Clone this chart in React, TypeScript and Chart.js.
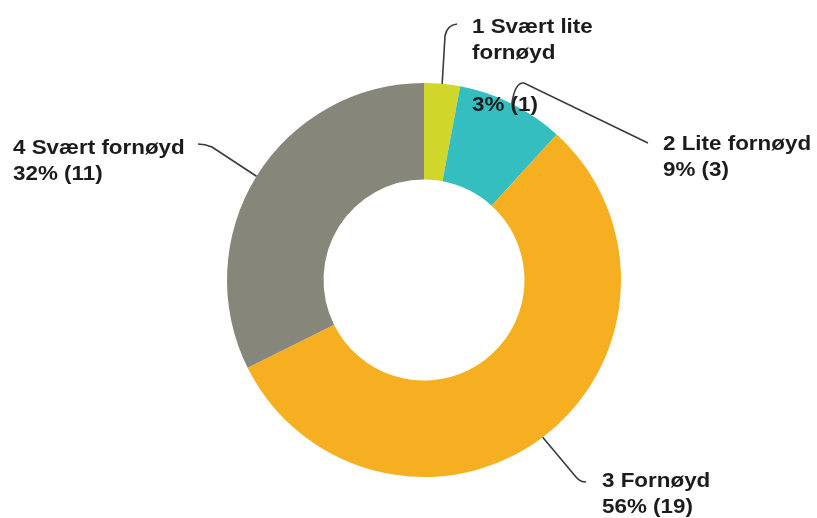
import React, { useEffect, useRef } from "react";
import { Chart, registerables } from "chart.js";

Chart.register(...registerables);

const categories = ["1 Svært lite fornøyd", "2 Lite fornøyd", "3 Fornøyd", "4 Svært fornøyd"];
const nameLines = [["1 Svært lite", "fornøyd"], ["2 Lite fornøyd"], ["3 Fornøyd"], ["4 Svært fornøyd"]];
const counts = [1, 3, 19, 11];
const colors = ["#D1D62B", "#35BEC0", "#F6AF20", "#86877A"];

// label layout, relative to doughnut centre (px)
const labelLayout = [
  { tx: 48, ty: -247, pctLine: 3, path: [[21, -244], [23, -255], [33, -256]], curveFirst: false },
  { tx: 239, ty: -130, pctLine: 1, path: [[91, -198], [100, -197], [224, -137]], curveFirst: true },
  { tx: 178, ty: 207, pctLine: 1, path: [[152, 197], [156, 202], [162, 202]], curveFirst: false },
  { tx: -411, ty: -126, pctLine: 1, path: [[-212, -133], [-219, -136], [-226, -136]], curveFirst: false },
];

const labelPlugin = {
  id: "leaderLabels",
  afterDatasetsDraw(chart: any) {
    const ctx = chart.ctx;
    const meta = chart.getDatasetMeta(0);
    const total = counts.reduce((a, b) => a + b, 0);
    ctx.save();
    meta.data.forEach((arc: any, i: number) => {
      const { x: cx, y: cy, startAngle, endAngle, outerRadius } = arc.getProps(
        ["x", "y", "startAngle", "endAngle", "outerRadius"],
        true
      );
      const mid = (startAngle + endAngle) / 2;
      const ax = cx + Math.cos(mid) * outerRadius;
      const ay = cy + Math.sin(mid) * outerRadius;
      const L = labelLayout[i];
      const p = L.path.map(([dx, dy]) => [cx + dx, cy + dy]);
      ctx.strokeStyle = "#3a3a3a";
      ctx.lineWidth = 1.6;
      ctx.beginPath();
      ctx.moveTo(ax, ay);
      if (L.curveFirst) {
        ctx.quadraticCurveTo(p[0][0], p[0][1], p[1][0], p[1][1]);
        ctx.lineTo(p[2][0], p[2][1]);
      } else {
        ctx.lineTo(p[0][0], p[0][1]);
        ctx.quadraticCurveTo(p[1][0], p[1][1], p[2][0], p[2][1]);
      }
      ctx.stroke();

      ctx.fillStyle = "#1c1c1c";
      ctx.font = "bold 20px 'Liberation Sans', Arial, sans-serif";
      ctx.textAlign = "left";
      ctx.textBaseline = "alphabetic";
      const lh = 26;
      const tx = cx + L.tx;
      const ty = cy + L.ty;
      const draw = (t: string, y: number) => {
        ctx.save();
        ctx.translate(tx, y);
        ctx.scale(1.12, 1);
        ctx.fillText(t, 0, 0);
        ctx.restore();
      };
      nameLines[i].forEach((t, k) => draw(t, ty + k * lh));
      const pct = Math.round((counts[i] / total) * 100);
      draw(`${pct}% (${counts[i]})`, ty + L.pctLine * lh);
    });
    ctx.restore();
  },
};

export default function App() {
  const ref = useRef<HTMLCanvasElement>(null);
  useEffect(() => {
    document.body.style.margin = "0";
    const chart = new Chart(ref.current!, {
      type: "doughnut",
      data: {
        labels: categories,
        datasets: [
          {
            data: counts,
            backgroundColor: colors,
            borderWidth: 0,
          },
        ],
      },
      options: {
        responsive: false,
        animation: false,
        devicePixelRatio: 1,
        cutout: "51%",
        layout: { padding: { left: 227, right: 196, top: 83, bottom: 41 } },
        plugins: { legend: { display: false }, tooltip: { enabled: false } },
      },
      plugins: [labelPlugin],
    });
    return () => chart.destroy();
  }, []);
  return <canvas ref={ref} width={817} height={518} style={{ display: "block" }} />;
}
